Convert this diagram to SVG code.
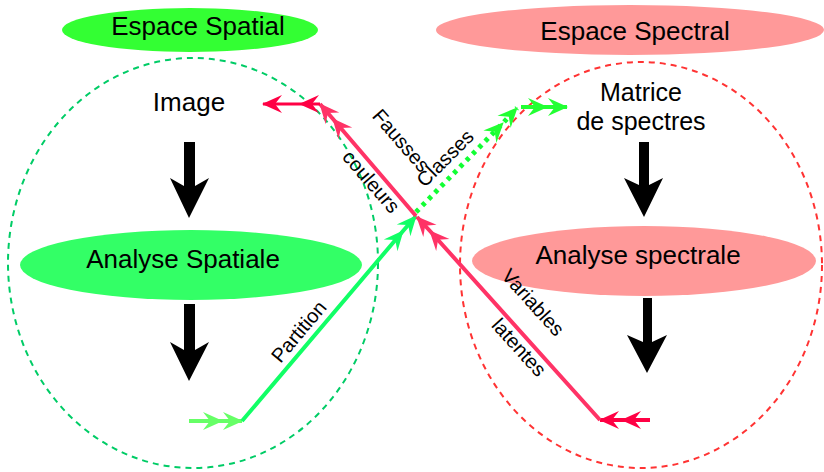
<svg xmlns="http://www.w3.org/2000/svg" width="824" height="472" viewBox="0 0 824 472">
<defs>
<style>
text{font-family:"Liberation Sans",Arial,sans-serif;fill:#000}
.t{font-size:26px;text-anchor:middle}
.m{font-size:25px;text-anchor:middle}
.l{font-size:20px;text-anchor:middle}
.blk{fill:#000}
.dg{fill:none;stroke:#00cc66;stroke-width:2;stroke-dasharray:6,5}
.dr{fill:none;stroke:#ff3333;stroke-width:2;stroke-dasharray:6,5}
</style>
<marker id="aRed" markerUnits="userSpaceOnUse" viewBox="-22 -11 24 22" refX="0" refY="0" markerWidth="24" markerHeight="22" orient="auto" overflow="visible"><path d="M1,0 L-19,-9 L-12,0 L-19,9 Z" fill="#ff3366"/></marker>
<marker id="aRed2" markerUnits="userSpaceOnUse" viewBox="-22 -11 24 22" refX="0" refY="0" markerWidth="24" markerHeight="22" orient="auto" overflow="visible"><path d="M1,0 L-19,-9 L-12,0 L-19,9 Z" fill="#ff0044"/></marker>
<marker id="aGrn" markerUnits="userSpaceOnUse" viewBox="-22 -11 24 22" refX="0" refY="0" markerWidth="24" markerHeight="22" orient="auto" overflow="visible"><path d="M1,0 L-19,-9 L-12,0 L-19,9 Z" fill="#11ff66"/></marker>
<marker id="aGrn2" markerUnits="userSpaceOnUse" viewBox="-22 -11 24 22" refX="0" refY="0" markerWidth="24" markerHeight="22" orient="auto" overflow="visible"><path d="M1,0 L-19,-9 L-12,0 L-19,9 Z" fill="#22ff33"/></marker>
<marker id="aGrn3" markerUnits="userSpaceOnUse" viewBox="-22 -11 24 22" refX="0" refY="0" markerWidth="24" markerHeight="22" orient="auto" overflow="visible"><path d="M1,0 L-19,-9 L-12,0 L-19,9 Z" fill="#66ff66"/></marker>
</defs>
<rect width="824" height="472" fill="#fff"/>

<g id="spatial-domain"><ellipse class="dg" cx="193" cy="263" rx="185" ry="205"/></g>
<g id="spectral-domain"><ellipse class="dr" cx="641" cy="265" rx="181" ry="203"/></g>

<g id="espace-spatial"><ellipse cx="190" cy="30" rx="128" ry="22" fill="#33ff33"/><text class="t" x="198" y="35">Espace Spatial</text></g>
<g id="espace-spectral"><ellipse cx="630" cy="30" rx="194" ry="25" fill="#ff9999"/><text class="t" x="635" y="40">Espace Spectral</text></g>
<g id="image"><text class="t" x="189" y="111">Image</text></g>
<g id="analyse-spatiale"><ellipse cx="191" cy="265" rx="171" ry="35" fill="#33ff66"/><text class="t" x="183" y="268">Analyse Spatiale</text></g>
<g id="matrice"><text class="m" x="641" y="101">Matrice</text><text class="m" x="641" y="130">de spectres</text></g>
<g id="analyse-spectrale"><ellipse cx="644" cy="261" rx="172" ry="35" fill="#ff9999"/><text class="t" x="638" y="264">Analyse spectrale</text></g>

<g id="connectors">
<polygon class="blk" points="184,142 195,142 195,186 209,178 189,218 170,178 184,186"/>
<polygon class="blk" points="184,304 195,304 195,350 209,342 189,381 170,342 184,350"/>
<polygon class="blk" points="639,142 649,142 649,185 663,178 644,217 624,178 639,185"/>
<polygon class="blk" points="643,298 652,298 652,342 667,335 647,373 627,335 643,342"/>

<path d="M189,421 L222,421 L242,421" fill="none" stroke="#66ff66" stroke-width="4" marker-mid="url(#aGrn3)" marker-end="url(#aGrn3)"/>
<path d="M242,421 L403,231 L416,216" fill="none" stroke="#11ff66" stroke-width="4" marker-mid="url(#aGrn)" marker-end="url(#aGrn)"/>
<path d="M416,212 L503,123 L517,108" fill="none" stroke="#11ff33" stroke-width="5" stroke-dasharray="4,5" marker-mid="url(#aGrn2)" marker-end="url(#aGrn2)"/>
<path d="M521,107 L547,107 L567,107" fill="none" stroke="#22ff33" stroke-width="4" marker-mid="url(#aGrn2)" marker-end="url(#aGrn2)"/>

<path d="M650,420 L622,420 L600,420" fill="none" stroke="#ff0044" stroke-width="4" marker-mid="url(#aRed2)" marker-end="url(#aRed2)"/>
<path d="M600,420 L430,231 L417,217" fill="none" stroke="#ff3366" stroke-width="4" marker-mid="url(#aRed)" marker-end="url(#aRed)"/>
<path d="M416,216 L333,119 L320,104" fill="none" stroke="#ff3366" stroke-width="4" marker-mid="url(#aRed)" marker-end="url(#aRed)"/>
<path d="M320,104 L300,104 L263,104" fill="none" stroke="#ff0044" stroke-width="3" marker-mid="url(#aRed2)" marker-end="url(#aRed2)"/>

<text class="l" transform="translate(304,336) rotate(-50)">Partition</text>
<text class="l" transform="translate(396,145) rotate(49)">Fausses</text>
<text class="l" transform="translate(366,186) rotate(49)">couleurs</text>
<text class="l" transform="translate(450,163) rotate(-45)">Classes</text>
<text class="l" transform="translate(528,307) rotate(48)">Variables</text>
<text class="l" transform="translate(514,352) rotate(48)">latentes</text>
</g>
</svg>
